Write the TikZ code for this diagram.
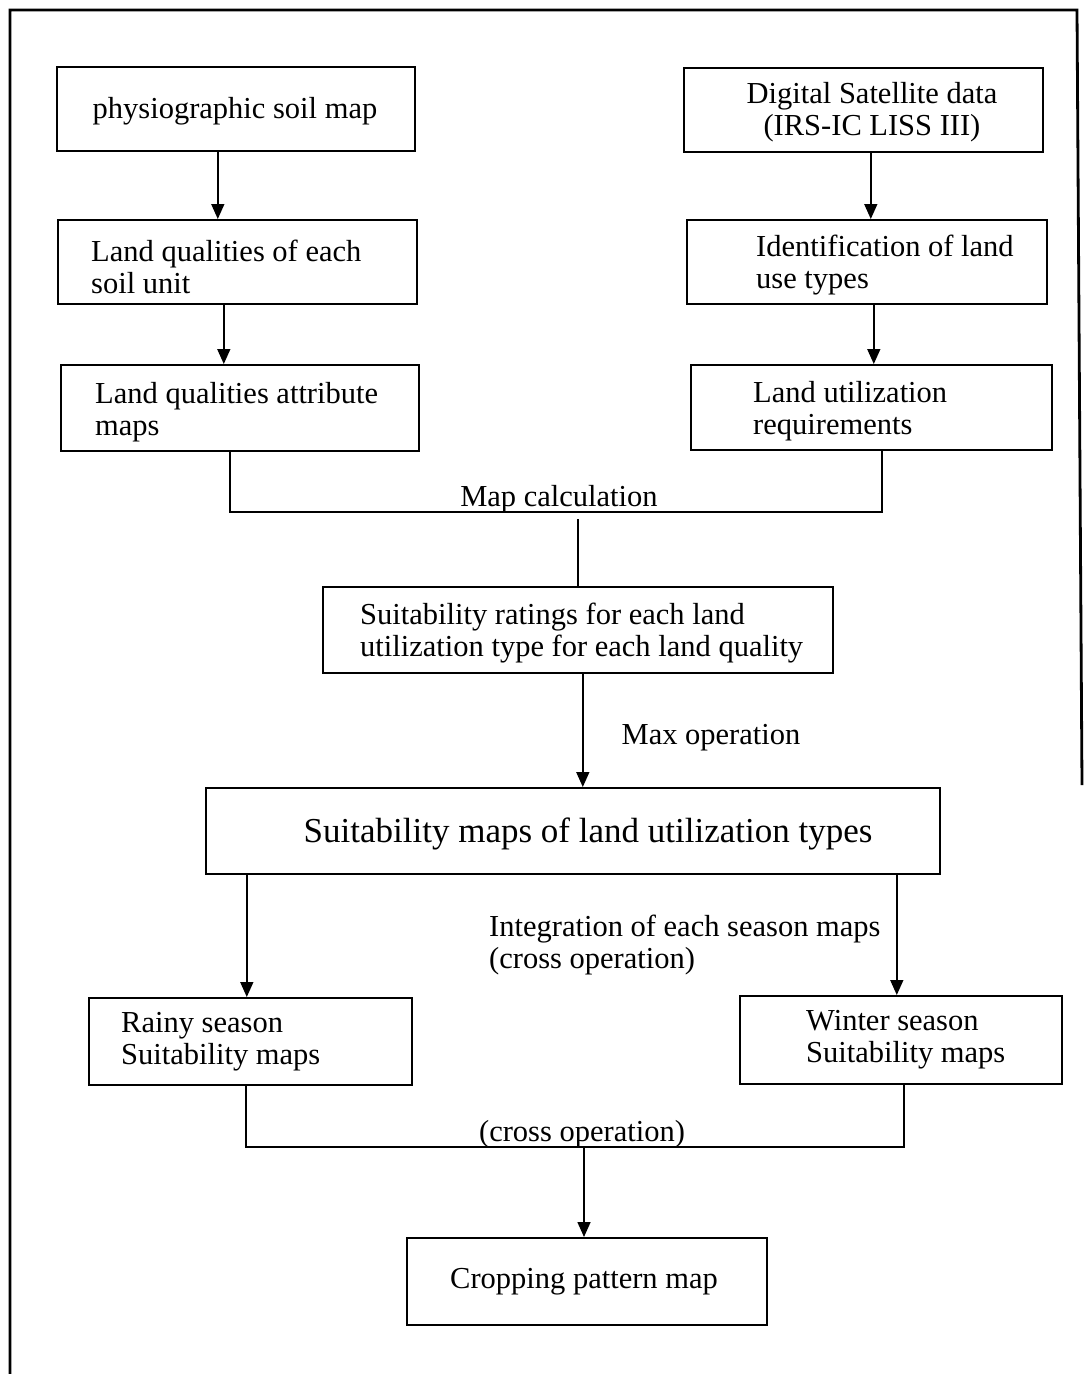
\documentclass[tikz,border=0pt]{standalone}
\usepackage{fontspec}
\setmainfont{Liberation Serif}
\usetikzlibrary{arrows.meta,calc}
\begin{document}
\begin{tikzpicture}[x=1pt,y=-1pt,
  box/.style={draw, line width=1.6pt, anchor=north west, inner sep=0pt},
  txt/.style={inner sep=0pt, align=left, yshift=-3pt, font=\fontsize{30.5}{32}\selectfont},
  bigtxt/.style={inner sep=0pt, yshift=-3pt, font=\fontsize{35}{38}\selectfont},
  link/.style={line width=1.6pt},
  arr/.style={line width=1.6pt, -{Triangle[length=15pt,width=13pt]}},
  frameline/.style={line width=2.8pt}]
\useasboundingbox (0,0) rectangle (1085,1374);
% frame
\coordinate (fA) at (10,1374);
\coordinate (fB) at (10,10);
\coordinate (fC) at (1077,10);
\coordinate (fD) at (1082,785);
\draw[frameline] (fA) -- (fB) -- (fC) -- (fD);
% boxes
\node[box, minimum width=358pt, minimum height=84pt] (b1) at (56,66) {};
\node[box, minimum width=359pt, minimum height=84pt] (b2) at (683,67) {};
\node[box, minimum width=359pt, minimum height=84pt] (b3) at (57,219) {};
\node[box, minimum width=360pt, minimum height=84pt] (b4) at (686,219) {};
\node[box, minimum width=358pt, minimum height=86pt] (b5) at (60,364) {};
\node[box, minimum width=361pt, minimum height=85pt] (b6) at (690,364) {};
\node[box, minimum width=510pt, minimum height=86pt] (b7) at (322,586) {};
\node[box, minimum width=734pt, minimum height=86pt] (b8) at (205,787) {};
\node[box, minimum width=323pt, minimum height=87pt] (b9) at (88,997) {};
\node[box, minimum width=322pt, minimum height=88pt] (b10) at (739,995) {};
\node[box, minimum width=360pt, minimum height=87pt] (b11) at (406,1237) {};
% texts
\node[txt] (t1) at (235,108) {physiographic soil map};
\node[txt, align=center] (t2) at (872,109) {Digital Satellite data\\(IRS-IC LISS III)};
\node[txt, anchor=west] (t3) at (91,263.5) {Land qualities of each\\soil unit};
\node[txt, anchor=west] (t4) at (756,262) {Identification of land\\use types};
\node[txt, anchor=west] (t5) at (95,409.5) {Land qualities attribute\\maps};
\node[txt, anchor=west] (t6) at (753,408) {Land utilization\\requirements};
\node[txt, anchor=west] (t7) at (360,630) {Suitability ratings for each land\\utilization type for each land quality};
\node[bigtxt] (t8) at (588,831) {Suitability maps of land utilization types};
\node[txt, anchor=west] (t9) at (121,1039) {Rainy season\\Suitability maps};
\node[txt, anchor=west] (t10) at (806,1037) {Winter season\\Suitability maps};
\node[txt] (t11) at (584,1279) {Cropping pattern map};
% labels
\node[txt] (l1) at (559,496) {Map calculation};
\node[txt] (l2) at (711,735) {Max operation};
\node[txt, anchor=west] (l3) at (489,941.5) {Integration of each season maps\\(cross operation)};
\node[txt] (l4) at (582,1131) {(cross operation)};
% connectors
\draw[arr] ([xshift=-18pt]b1.south) -- ([xshift=-18pt]b1.south |- b3.north);
\draw[arr] ([xshift=7.5pt]b2.south) -- ([xshift=7.5pt]b2.south |- b4.north);
\draw[arr] ([xshift=-13.5pt]b3.south) -- ([xshift=-13.5pt]b3.south |- b5.north);
\draw[arr] ([xshift=7pt]b4.south) -- ([xshift=7pt]b4.south |- b6.north);
\coordinate (m1) at (578,512);
\coordinate (m1b) at (578,519);
\draw[link] ([xshift=-10pt]b5.south) |- (m1) -| ([xshift=10.5pt]b6.south);
\draw[link] (m1b) -- (m1b |- b7.north);
\draw[arr] ([xshift=5pt]b7.south) -- ([xshift=5pt]b7.south |- b8.north);
\draw[arr] ([xshift=-326pt]b8.south) -- ([xshift=-326pt]b8.south |- b9.north);
\draw[arr] ([xshift=324pt]b8.south) -- ([xshift=324pt]b8.south |- b10.north);
\coordinate (m2) at (584,1147);
\draw[link] ([xshift=-4.5pt]b9.south) |- (m2) -| ([xshift=3pt]b10.south);
\draw[arr] (m2) -- (m2 |- b11.north);
\end{tikzpicture}
\end{document}
